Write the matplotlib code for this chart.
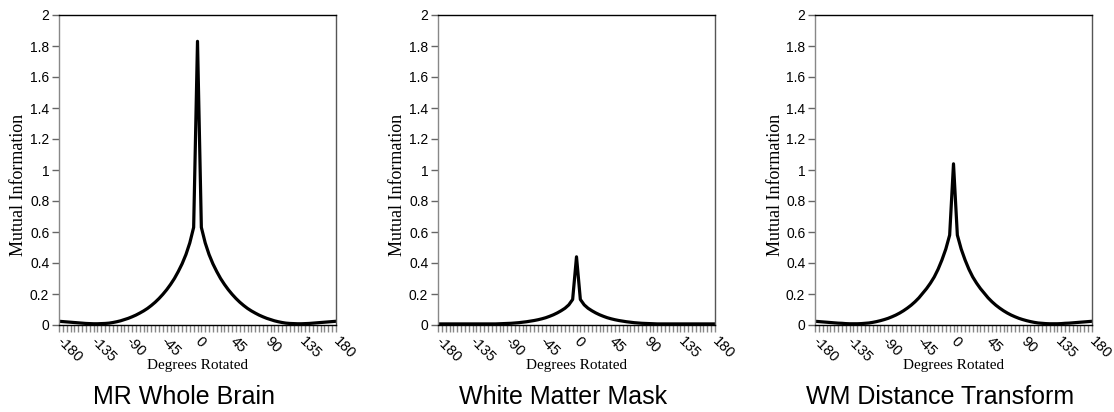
import numpy as np
import matplotlib
matplotlib.use("Agg")
from matplotlib import pyplot as plt
from matplotlib.ticker import FixedLocator, MultipleLocator, FuncFormatter

plt.rcParams.update({
    'font.family': ['Liberation Sans', 'DejaVu Sans'],
    'axes.linewidth': 1.0,
})

# rotation angles, 5 degree steps
degrees = list(range(-180, 181, 5))

# mutual information per rotation
mi_whole_brain = [
    0.024, 0.022, 0.020, 0.018, 0.016, 0.014, 0.012, 0.010, 0.009, 0.008,
    0.008, 0.009, 0.010, 0.012, 0.016, 0.021, 0.027, 0.035, 0.043, 0.053,
    0.064, 0.077, 0.091, 0.107, 0.126, 0.147, 0.171, 0.198, 0.228, 0.262,
    0.300, 0.345, 0.395, 0.455, 0.530, 0.630,
    1.830,
    0.630, 0.530, 0.455, 0.395, 0.345, 0.300, 0.262, 0.228, 0.198, 0.171,
    0.147, 0.126, 0.107, 0.091, 0.077, 0.064, 0.053, 0.043, 0.035, 0.027,
    0.021, 0.016, 0.012, 0.010, 0.009, 0.008, 0.008, 0.009, 0.010, 0.012,
    0.014, 0.016, 0.018, 0.020, 0.022, 0.024,
]
mi_wm_mask = [
    0.007, 0.007, 0.007, 0.007, 0.007, 0.007, 0.007, 0.007, 0.007, 0.007,
    0.007, 0.007, 0.007, 0.007, 0.007, 0.007, 0.008, 0.009, 0.010, 0.011,
    0.013, 0.015, 0.018, 0.021, 0.025, 0.029, 0.034, 0.040, 0.047, 0.056,
    0.066, 0.078, 0.092, 0.108, 0.130, 0.165,
    0.440,
    0.165, 0.130, 0.108, 0.092, 0.078, 0.066, 0.056, 0.047, 0.040, 0.034,
    0.029, 0.025, 0.021, 0.018, 0.015, 0.013, 0.011, 0.010, 0.009, 0.008,
    0.007, 0.007, 0.007, 0.007, 0.007, 0.007, 0.007, 0.007, 0.007, 0.007,
    0.007, 0.007, 0.007, 0.007, 0.007, 0.007,
]
mi_distance = [
    0.024, 0.022, 0.020, 0.018, 0.016, 0.014, 0.012, 0.011, 0.009, 0.008,
    0.008, 0.008, 0.009, 0.011, 0.013, 0.017, 0.022, 0.028, 0.035, 0.043,
    0.053, 0.064, 0.077, 0.092, 0.109, 0.128, 0.150, 0.175, 0.205, 0.235,
    0.270, 0.310, 0.360, 0.420, 0.490, 0.580,
    1.040,
    0.580, 0.490, 0.420, 0.360, 0.310, 0.270, 0.235, 0.205, 0.175, 0.150,
    0.128, 0.109, 0.092, 0.077, 0.064, 0.053, 0.043, 0.035, 0.028, 0.022,
    0.017, 0.013, 0.011, 0.009, 0.008, 0.008, 0.008, 0.009, 0.011, 0.012,
    0.014, 0.016, 0.018, 0.020, 0.022, 0.024,
]

titles = ["MR Whole Brain", "White Matter Mask", "WM Distance Transform"]
series = [mi_whole_brain, mi_wm_mask, mi_distance]
x_labels = [-180, -135, -90, -45, 0, 45, 90, 135, 180]
y_ticks = [0, 0.2, 0.4, 0.6, 0.8, 1.0, 1.2, 1.4, 1.6, 1.8, 2.0]

fig = plt.figure(figsize=(11.14, 4.12), dpi=100)
lefts = [59, 438, 815]
W, H = 1114, 412
serif = ['Liberation Serif', 'DejaVu Serif']

for left, title, mi in zip(lefts, titles, series):
    ax = fig.add_axes([left / W, 1 - 325 / H, 277 / W, 310 / H])
    ax.plot(degrees, mi, color='black', lw=2.3)
    ax.set_xlim(-180, 180)
    ax.set_ylim(0, 2)

    ax.spines['left'].set_color('#888888')
    ax.spines['right'].set_color('#555555')
    ax.spines['top'].set_color('black')
    ax.spines['bottom'].set_color('black')

    ax.yaxis.set_major_locator(FixedLocator(y_ticks))
    ax.yaxis.set_major_formatter(FuncFormatter(lambda v, p: f"{v:g}"))
    ax.tick_params(axis='y', direction='out', length=5, width=1,
                   color='#666666', labelsize=10, pad=2)

    # every 5 degrees a small tick, labels every 45
    ax.xaxis.set_major_locator(FixedLocator(x_labels))
    ax.xaxis.set_minor_locator(MultipleLocator(5))
    ax.tick_params(axis='x', which='both', direction='out', length=5,
                   width=1, color='#888888', pad=5)
    ax.set_xticklabels([str(v) for v in x_labels], rotation=-45,
                       ha='left', va='center', rotation_mode='anchor',
                       fontsize=10.5)

    cx = (left + 277 / 2) / W
    fig.text(cx, 1 - 366 / H, "Degrees Rotated", ha='center', va='center',
             family=serif, fontsize=11)
    fig.text((left - 40) / W, 1 - 185 / H, "Mutual Information",
             ha='center', va='center', rotation=90, family=serif, fontsize=13)
    # panel captions sit a little left of the plot centre
    fig.text(cx - 13 / W, 1 - 397 / H, title, ha='center', va='center',
             fontsize=18)

fig.savefig("out.png", dpi=100)
